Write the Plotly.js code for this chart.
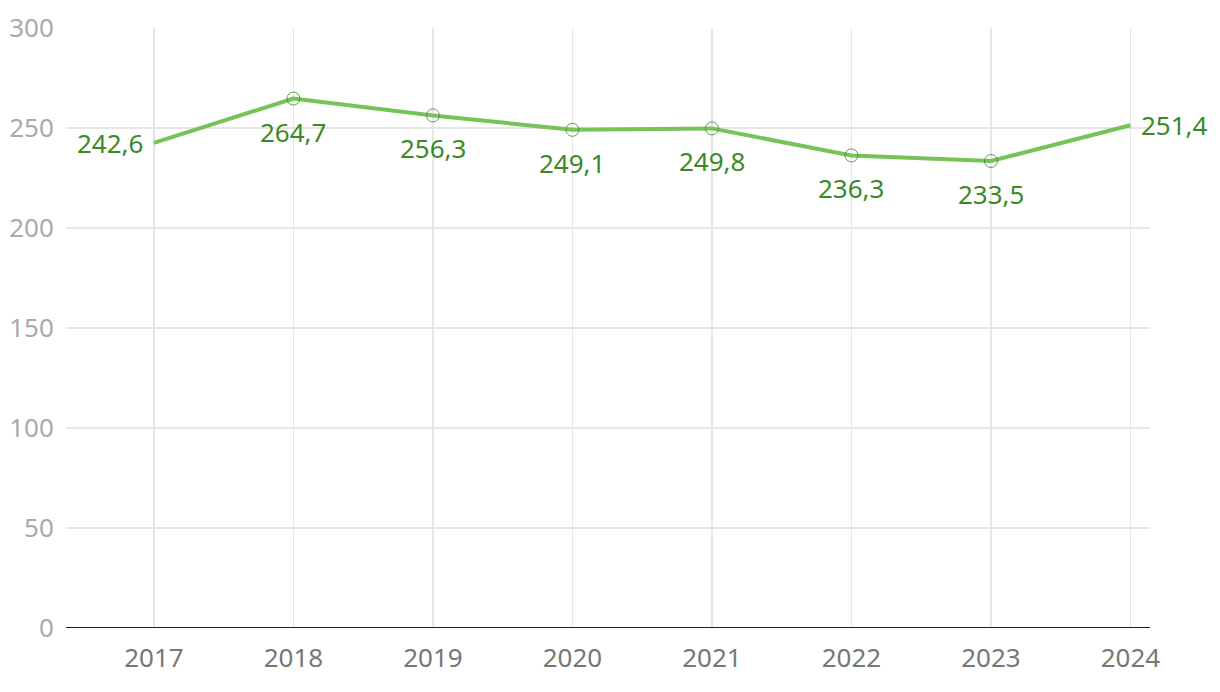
<!DOCTYPE html>
<html><head><meta charset="utf-8">
<script src="https://cdn.plot.ly/plotly-3.0.1.min.js"></script>
<style>html,body{margin:0;padding:0;background:#fff}#c{width:1220px;height:692px}</style>
</head><body><div id="c"></div>
<script>
const years = [2017, 2018, 2019, 2020, 2021, 2022, 2023, 2024];
const values = [242.6, 264.7, 256.3, 249.1, 249.8, 236.3, 233.5, 251.4];
const labelSides = ['left','below','below','below','below','below','below','right'];
const markerShown = [false, true, true, true, true, true, true, false];

const fmt = v => v.toFixed(1).replace('.', ',');

const trace = {
  x: years, y: values, type: 'scatter', mode: 'lines+markers',
  line: {color: '#78c25a', width: 4},
  marker: {symbol: 'circle-open', size: 13,
    color: markerShown.map(s => s ? '#3a8a25' : 'rgba(0,0,0,0)'),
    line: {width: 0.8, color: markerShown.map(s => s ? '#3a8a25' : 'rgba(0,0,0,0)')}},
  hoverinfo: 'skip', cliponaxis: false
};

const annotations = years.map((yr, i) => {
  const side = labelSides[i];
  const a = {x: yr, y: values[i], xref: 'x', yref: 'y', text: fmt(values[i]), showarrow: false,
    font: {family: 'Noto Sans, sans-serif', size: 26, color: '#3b8a26'}};
  if (side === 'left') { a.xanchor = 'right'; a.yanchor = 'middle'; a.xshift = -9; }
  else if (side === 'right') { a.xanchor = 'left'; a.yanchor = 'middle'; a.xshift = 9; }
  else { a.xanchor = 'center'; a.yanchor = 'middle'; a.yshift = -33; }
  return a;
});

const layout = {
  width: 1220, height: 692,
  margin: {l: 66, r: 70, t: 28, b: 64},
  paper_bgcolor: '#fff', plot_bgcolor: '#fff',
  showlegend: false,
  font: {family: 'Noto Sans, sans-serif'},
  xaxis: {range: [2016.37, 2024.14], tickvals: years, ticktext: years.map(String),
    showgrid: true, gridcolor: '#e6e6e6', gridwidth: 1.5, zeroline: false,
    showline: false, ticks: 'outside', ticklen: 7, tickcolor: 'rgba(0,0,0,0)',
    tickfont: {size: 26, color: '#777'}},
  yaxis: {range: [0, 300], tickvals: [0, 50, 100, 150, 200, 250, 300],
    showgrid: true, gridcolor: '#e6e6e6', gridwidth: 1.5, zeroline: false,
    showline: false, ticks: 'outside', ticklen: 6, tickcolor: 'rgba(0,0,0,0)',
    tickfont: {size: 26, color: '#aaa'}},
  annotations: annotations,
  shapes: [{type: 'line', xref: 'paper', yref: 'y', x0: 0, x1: 1, y0: 0, y1: 0,
    line: {color: '#222', width: 2}}]
};

Plotly.newPlot('c', [trace], layout, {displayModeBar: false, staticPlot: true});
</script></body></html>
